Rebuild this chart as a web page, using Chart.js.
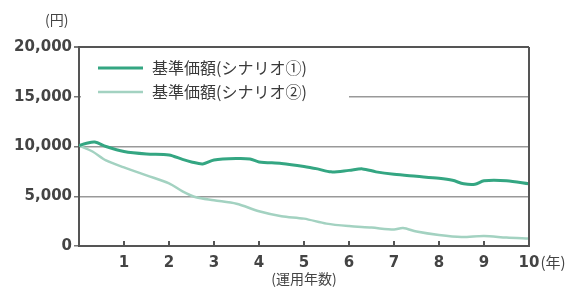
<!DOCTYPE html>
<html>
<head>
<meta charset="utf-8">
<script src="https://cdn.jsdelivr.net/npm/chart.js@4.4.0/dist/chart.umd.min.js"></script>
<style>
  html, body { margin: 0; padding: 0; background: #fff; }
  #wrap { width: 574px; height: 288px; }
</style>
</head>
<body>
<div id="wrap"><canvas id="chart" width="574" height="288"></canvas></div>
<script>
// シナリオ①
const years1 = [0, 0.15, 0.35, 0.6, 1.0, 1.5, 2.0, 2.3, 2.5, 2.75, 3.0, 3.5, 3.8, 4.0, 4.5, 5.0, 5.3, 5.6, 6.0, 6.3, 6.6, 7.0, 7.5, 8.0, 8.3, 8.55, 8.8, 9.0, 9.5, 10.0];
const values1 = [10100, 10300, 10450, 10000, 9500, 9250, 9150, 8700, 8450, 8250, 8650, 8800, 8750, 8450, 8300, 8000, 7750, 7450, 7600, 7750, 7450, 7200, 7000, 6800, 6600, 6250, 6200, 6550, 6550, 6250];

// シナリオ②
const years2 = [0, 0.3, 0.6, 1.0, 1.5, 2.0, 2.3, 2.6, 3.0, 3.5, 4.0, 4.5, 5.0, 5.5, 6.0, 6.5, 7.0, 7.2, 7.5, 8.0, 8.5, 9.0, 9.5, 10.0];
const values2 = [10100, 9500, 8600, 7900, 7100, 6300, 5500, 4900, 4600, 4250, 3500, 3000, 2750, 2250, 2000, 1850, 1650, 1800, 1450, 1100, 900, 1000, 850, 750];

const seriesLabels = ['基準価額(シナリオ①)', '基準価額(シナリオ②)'];
const seriesColors = ['#34a682', '#a3d2c1'];
const seriesWidths = [3, 2.5];

const yTicks = [0, 5000, 10000, 15000, 20000];
const xTicks = [1, 2, 3, 4, 5, 6, 7, 8, 9, 10];

const numFont = 'DejaVu Sans, sans-serif';
const jpFont = '"Noto Sans CJK JP", sans-serif';
const textColor = '#444';

const toPoints = (xs, ys) => xs.map((x, i) => ({ x: x, y: ys[i] }));

// 枠・凡例・目盛りなどの追加描画
const decorPlugin = {
  id: 'decor',
  beforeDatasetsDraw(chart) {
    const { ctx, chartArea } = chart;
    ctx.save();
    // 凡例の白い背景
    ctx.fillStyle = '#fff';
    ctx.fillRect(chartArea.left + 2, chartArea.top + 6, 268, 52);
    // 凡例
    [68, 92].forEach((y, i) => {
      ctx.strokeStyle = seriesColors[i];
      ctx.lineWidth = seriesWidths[i];
      ctx.beginPath();
      ctx.moveTo(98, y);
      ctx.lineTo(143, y);
      ctx.stroke();
      ctx.fillStyle = '#3a3a3a';
      ctx.font = '16px ' + jpFont;
      ctx.textBaseline = 'middle';
      ctx.textAlign = 'left';
      ctx.fillText(seriesLabels[i], 152, y);
    });
    ctx.restore();
  },
  afterDraw(chart) {
    const { ctx, chartArea, scales } = chart;
    ctx.save();
    // 右側の枠線
    ctx.strokeStyle = '#555';
    ctx.lineWidth = 2;
    ctx.beginPath();
    ctx.moveTo(chartArea.right, chartArea.top);
    ctx.lineTo(chartArea.right, chartArea.bottom);
    ctx.stroke();
    // x軸の内向き目盛り
    xTicks.forEach(v => {
      const px = scales.x.getPixelForValue(v);
      ctx.beginPath();
      ctx.moveTo(px, chartArea.bottom);
      ctx.lineTo(px, chartArea.bottom - 5);
      ctx.stroke();
    });
    // 単位
    ctx.fillStyle = textColor;
    ctx.font = '14px ' + jpFont;
    ctx.textBaseline = 'middle';
    ctx.textAlign = 'left';
    ctx.fillText('(円)', 45, 20);
    ctx.font = 'bold 15px ' + numFont;
    const tenX = scales.x.getPixelForValue(10) + ctx.measureText('10').width / 2 + 1;
    ctx.font = '15px ' + jpFont;
    ctx.fillText('(年)', tenX, 262);
    ctx.restore();
  }
};

new Chart(document.getElementById('chart'), {
  type: 'line',
  data: {
    datasets: [
      {
        label: seriesLabels[0],
        data: toPoints(years1, values1),
        borderColor: seriesColors[0],
        borderWidth: seriesWidths[0],
        pointRadius: 0,
        tension: 0.3
      },
      {
        label: seriesLabels[1],
        data: toPoints(years2, values2),
        borderColor: seriesColors[1],
        borderWidth: seriesWidths[1],
        pointRadius: 0,
        tension: 0.3
      }
    ]
  },
  options: {
    responsive: false,
    animation: false,
    events: [],
    layout: { padding: { left: 0, top: 47, right: 45, bottom: 0 } },
    plugins: {
      legend: { display: false },
      tooltip: { enabled: false }
    },
    scales: {
      x: {
        type: 'linear',
        min: 0,
        max: 10,
        afterFit: scale => { scale.height = 42; },
        afterBuildTicks: scale => { scale.ticks = xTicks.map(v => ({ value: v })); },
        grid: { drawOnChartArea: false, drawTicks: false },
        border: { color: '#555', width: 2 },
        ticks: {
          padding: 8,
          maxRotation: 0,
          autoSkip: false,
          color: textColor,
          font: { family: numFont, size: 15, weight: 'bold' },
          callback: v => String(v)
        },
        title: {
          display: true,
          text: '(運用年数)',
          color: textColor,
          font: { family: jpFont, size: 14 },
          padding: { top: 0, bottom: 1 }
        }
      },
      y: {
        min: 0,
        max: 20000,
        afterFit: scale => { scale.width = 79; },
        afterBuildTicks: scale => { scale.ticks = yTicks.map(v => ({ value: v })); },
        grid: {
          color: c => (c.tick && (c.tick.value === 20000 || c.tick.value === 0)) ? '#555' : '#999',
          lineWidth: c => (c.tick && c.tick.value === 20000) ? 2 : 1.5,
          tickLength: 5,
          tickColor: '#777'
        },
        border: { color: '#555', width: 2 },
        ticks: {
          padding: 2,
          color: textColor,
          font: { family: numFont, size: 15, weight: 'bold' },
          callback: v => v.toLocaleString('en-US')
        }
      }
    }
  },
  plugins: [decorPlugin]
});
</script>
</body>
</html>
